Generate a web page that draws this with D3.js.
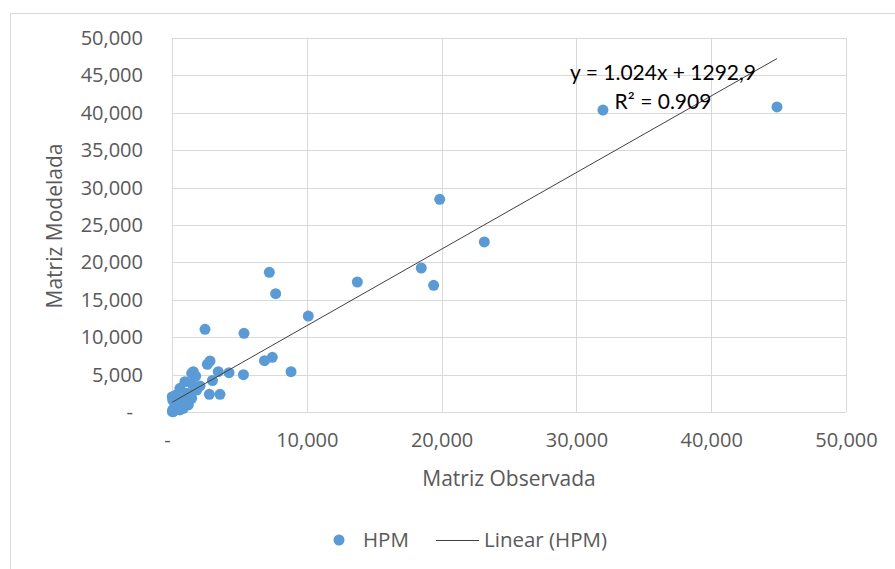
<!DOCTYPE html>
<html>
<head>
<meta charset="utf-8">
<script src="https://cdn.jsdelivr.net/npm/d3@7.9.0/dist/d3.min.js"></script>
<style>
  body { margin: 0; background: #fff; }
  svg text { font-family: "Open Sans", sans-serif; fill: #595959; }
</style>
</head>
<body>
<svg id="chart" width="895" height="569"></svg>
<script>
// observed vs modelled values (HPM)
const observed = [44880, 31970, 19860, 23170, 18490, 19410, 13750, 7220, 7690, 10110,
  2450, 5340, 6860, 7440, 8830, 5300, 4230, 3430, 2820, 2620,
  3000, 2770, 3560, 1580, 1460, 1760, 960, 590, 1710, 1460,
  1830, 1090, 1460, 20, 1090, 220, 1210, 50, 590, 30,
  470, 840, 100, 50, 740, 2080, 300];
const modelled = [40780, 40370, 28440, 22730, 19250, 16940, 17380, 18680, 15820, 12830,
  11060, 10520, 6860, 7310, 5390, 4990, 5250, 5390, 6820, 6380,
  4210, 2370, 2370, 5390, 5170, 4810, 4050, 3170, 3170, 3840,
  2940, 2500, 1830, 2050, 2050, 940, 940, 270, 270, 50,
  710, 490, 40, 1600, 1600, 3480, 2270];

const tickValues = [0, 5000, 10000, 15000, 20000, 25000, 30000, 35000, 40000, 45000, 50000];
const xTickValues = [0, 10000, 20000, 30000, 40000, 50000];

const slope = 1.024;
const intercept = 1292.9;
const equationText = "y = 1.024x + 1292,9";
const r2Text = "R² = 0.909";

const svg = d3.select('#chart');
const margin = { left: 172, right: 49, top: 38, bottom: 157 };
const width = 895 - margin.left - margin.right;
const height = 569 - margin.top - margin.bottom;

// outer chart frame
svg.append('rect')
  .attr('x', 10.5).attr('y', 13.5)
  .attr('width', 900).attr('height', 600)
  .attr('fill', 'none').attr('stroke', '#d9d9d9');

const g = svg.append('g').attr('transform', `translate(${margin.left},${margin.top})`);

const x = d3.scaleLinear().domain([0, 50000]).range([0, width]);
const y = d3.scaleLinear().domain([0, 50000]).range([height, 0]);

const fmt = d3.format(',');

// gridlines
g.append('g')
  .selectAll('line.h')
  .data(tickValues)
  .join('line')
  .attr('x1', 0).attr('x2', width)
  .attr('y1', d => Math.round(y(d)) + 0.5).attr('y2', d => Math.round(y(d)) + 0.5)
  .attr('stroke', '#d9d9d9');
g.append('g')
  .selectAll('line.v')
  .data(xTickValues)
  .join('line')
  .attr('y1', 0).attr('y2', height)
  .attr('x1', d => Math.round(x(d)) + 0.5).attr('x2', d => Math.round(x(d)) + 0.5)
  .attr('stroke', '#d9d9d9');

// axes (labels only)
const yAxis = g.append('g')
  .call(d3.axisLeft(y).tickValues(tickValues).tickSize(0).tickPadding(29)
    .tickFormat(d => d === 0 ? '-' : fmt(d)));
yAxis.select('.domain').remove();
yAxis.selectAll('text').style('font-size', '20px')
  .attr('dx', d => d === 0 ? -10 : 0);

const xAxis = g.append('g')
  .attr('transform', `translate(0,${height})`)
  .call(d3.axisBottom(x).tickValues(xTickValues).tickSize(0).tickPadding(21)
    .tickFormat(d => d === 0 ? '-' : fmt(d)));
xAxis.select('.domain').remove();
xAxis.selectAll('text').style('font-size', '20px')
  .attr('dx', d => d === 0 ? -5 : 0);

// axis titles
svg.append('text')
  .attr('x', 509).attr('y', 486)
  .attr('text-anchor', 'middle')
  .style('font-size', '21px')
  .text('Matriz Observada');
svg.append('text')
  .attr('transform', 'translate(62,226) rotate(-90)')
  .attr('text-anchor', 'middle')
  .style('font-size', '21px')
  .text('Matriz Modelada');

// points
g.append('g')
  .selectAll('circle')
  .data(observed.map((v, i) => [v, modelled[i]]))
  .join('circle')
  .attr('cx', d => x(d[0]))
  .attr('cy', d => y(d[1]))
  .attr('r', 5.5)
  .attr('fill', '#5b9bd5');

// linear trendline
const xMin = d3.min(observed), xMax = d3.max(observed);
g.append('line')
  .attr('x1', x(xMin)).attr('y1', y(slope * xMin + intercept))
  .attr('x2', x(xMax)).attr('y2', y(slope * xMax + intercept))
  .attr('stroke', '#404040').attr('stroke-width', 1);

// equation labels
const eqStyle = sel => sel
  .attr('text-anchor', 'middle')
  .style('font-family', 'Lato, sans-serif')
  .style('font-size', '21px')
  .style('fill', '#000');
svg.append('text').attr('x', 663).attr('y', 80).call(eqStyle).text(equationText);
svg.append('text').attr('x', 663).attr('y', 109).call(eqStyle).text(r2Text);

// legend
const legend = svg.append('g');
legend.append('circle').attr('cx', 339).attr('cy', 540).attr('r', 5.5).attr('fill', '#5b9bd5');
legend.append('text').attr('x', 363).attr('y', 547).style('font-size', '20.5px').text('HPM');
legend.append('line').attr('x1', 436).attr('x2', 479).attr('y1', 540.5).attr('y2', 540.5)
  .attr('stroke', '#404040').attr('stroke-width', 1);
legend.append('text').attr('x', 484).attr('y', 547).style('font-size', '20.5px').text('Linear (HPM)');
</script>
</body>
</html>
